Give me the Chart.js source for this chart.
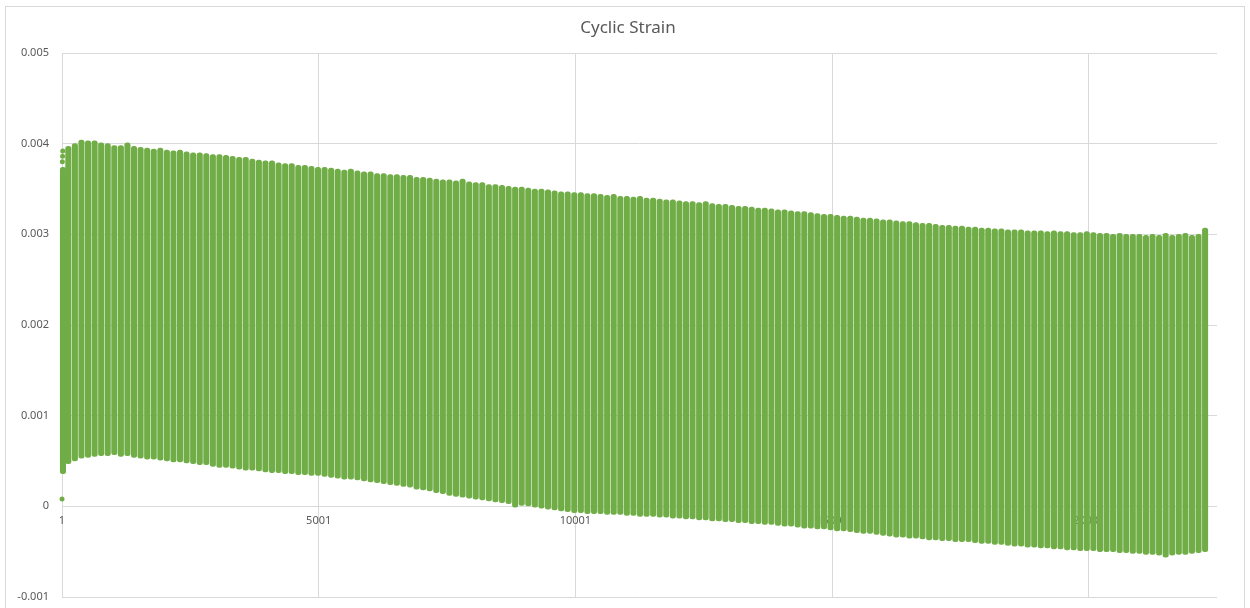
<!DOCTYPE html>
<html>
<head>
<meta charset="utf-8">
<title>Cyclic Strain</title>
<script src="https://cdn.jsdelivr.net/npm/chart.js@4.4.0/dist/chart.umd.min.js"></script>
<style>
  html, body { margin: 0; padding: 0; background: #ffffff; }
  #wrap { width: 1250px; height: 608px; }
</style>
</head>
<body>
<div id="wrap"><canvas id="chart" width="1250" height="608"></canvas></div>
<script>
  // strain log: one sample per row, ~128 samples per load cycle
  const samplesPerCycle = 128
  const firstCycleStart = 60

  // highest and lowest strain of every cycle
  const peakStrain = [
    0.00397, 0.00400, 0.00404, 0.00403, 0.00403, 0.00401, 0.00400, 0.00398, 0.00398, 0.00401,
    0.00397, 0.00396, 0.00395, 0.00394, 0.00395, 0.00393, 0.00392, 0.00393, 0.00391, 0.00390,
    0.00390, 0.00389, 0.00388, 0.00388, 0.00387, 0.00386, 0.00385, 0.00385, 0.00383, 0.00382,
    0.00381, 0.00381, 0.00379, 0.00378, 0.00378, 0.00376, 0.00376, 0.00375, 0.00374, 0.00374,
    0.00373, 0.00372, 0.00371, 0.00372, 0.00370, 0.00369, 0.00369, 0.00367, 0.00367, 0.00366,
    0.00366, 0.00365, 0.00365, 0.00363, 0.00363, 0.00362, 0.00361, 0.00360, 0.00360, 0.00359,
    0.00361, 0.00358, 0.00357, 0.00357, 0.00355, 0.00355, 0.00354, 0.00353, 0.00352, 0.00352,
    0.00351, 0.00350, 0.00350, 0.00349, 0.00348, 0.00347, 0.00347, 0.00346, 0.00346, 0.00345,
    0.00345, 0.00344, 0.00343, 0.00344, 0.00342, 0.00342, 0.00341, 0.00342, 0.00340, 0.00340,
    0.00339, 0.00338, 0.00338, 0.00337, 0.00336, 0.00336, 0.00335, 0.00336, 0.00334, 0.00333,
    0.00333, 0.00332, 0.00331, 0.00331, 0.00330, 0.00329, 0.00329, 0.00328, 0.00327, 0.00327,
    0.00326, 0.00325, 0.00325, 0.00324, 0.00323, 0.00322, 0.00322, 0.00321, 0.00320, 0.00320,
    0.00319, 0.00318, 0.00318, 0.00317, 0.00316, 0.00316, 0.00315, 0.00314, 0.00314, 0.00313,
    0.00312, 0.00312, 0.00311, 0.00310, 0.00310, 0.00309, 0.00309, 0.00308, 0.00308, 0.00307,
    0.00307, 0.00306, 0.00306, 0.00305, 0.00305, 0.00305, 0.00304, 0.00304, 0.00304, 0.00303,
    0.00304, 0.00303, 0.00303, 0.00302, 0.00302, 0.00303, 0.00302, 0.00301, 0.00301, 0.00300,
    0.00301, 0.00300, 0.00300, 0.00300, 0.00299, 0.00300, 0.00299, 0.00301, 0.00299, 0.00300,
    0.00301, 0.00299, 0.00300, 0.00307
  ]
  const troughStrain = [
    0.00047, 0.00050, 0.00053, 0.00054, 0.00055, 0.00056, 0.00056, 0.00057, 0.00055, 0.00056,
    0.00054, 0.00053, 0.00052, 0.00052, 0.00051, 0.00050, 0.00049, 0.00049, 0.00048, 0.00047,
    0.00046, 0.00046, 0.00044, 0.00043, 0.00043, 0.00042, 0.00041, 0.00040, 0.00040, 0.00039,
    0.00038, 0.00037, 0.00037, 0.00036, 0.00036, 0.00035, 0.00035, 0.00034, 0.00034, 0.00033,
    0.00032, 0.00031, 0.00030, 0.00030, 0.00029, 0.00028, 0.00027, 0.00026, 0.00025, 0.00024,
    0.00023, 0.00022, 0.00021, 0.00019, 0.00018, 0.00017, 0.00015, 0.00014, 0.00012, 0.00011,
    0.00010, 0.00009, 0.00008, 0.00007, 0.00006, 0.00005, 0.00004, 0.00003, -0.00001, 0.00001,
    0.00000, -0.00001, -0.00002, -0.00003, -0.00004, -0.00005, -0.00006, -0.00007, -0.00007, -0.00008,
    -0.00008, -0.00008, -0.00009, -0.00009, -0.00009, -0.00010, -0.00010, -0.00011, -0.00011, -0.00011,
    -0.00012, -0.00012, -0.00013, -0.00013, -0.00014, -0.00014, -0.00015, -0.00015, -0.00016, -0.00016,
    -0.00017, -0.00017, -0.00018, -0.00018, -0.00019, -0.00019, -0.00020, -0.00020, -0.00021, -0.00022,
    -0.00022, -0.00023, -0.00024, -0.00024, -0.00025, -0.00025, -0.00026, -0.00027, -0.00027, -0.00028,
    -0.00029, -0.00030, -0.00030, -0.00031, -0.00032, -0.00033, -0.00034, -0.00034, -0.00035, -0.00035,
    -0.00036, -0.00037, -0.00037, -0.00038, -0.00038, -0.00039, -0.00039, -0.00039, -0.00040, -0.00041,
    -0.00041, -0.00042, -0.00042, -0.00043, -0.00044, -0.00044, -0.00045, -0.00045, -0.00046, -0.00046,
    -0.00047, -0.00047, -0.00048, -0.00048, -0.00049, -0.00049, -0.00049, -0.00050, -0.00050, -0.00050,
    -0.00051, -0.00051, -0.00052, -0.00052, -0.00053, -0.00053, -0.00054, -0.00056, -0.00054, -0.00053,
    -0.00053, -0.00052, -0.00051, -0.00050
  ]

  // first samples, before the cycling settles
  const rampSample = [1, 8, 12, 16]
  const rampStrain = [0.00008, 0.00380, 0.00386, 0.00392]
  const rampBand = [0.00036, 0.00374]
  const rampBandSample = 20

  const xTicks = [1, 5001, 10001, 15001, 20001]
  const xMax = 22500
  const yMin = -0.001
  const yMax = 0.005
  const chartTitle = 'Cyclic Strain'

  const green = '#70ad47'
  const grey = '#595959'
  const gridColor = '#d9d9d9'

  const cycleBars = peakStrain.map((peak, i) => ({
    x: firstCycleStart + i * samplesPerCycle + samplesPerCycle / 2,
    y: [troughStrain[i], peak]
  }))
  cycleBars.unshift({x: rampBandSample, y: rampBand})

  const rampPoints = rampSample.map((s, i) => ({x: s, y: rampStrain[i]}))

  // white page, thin frame round the whole chart and the title above it
  const frame = {
    id: 'frame',
    beforeDraw(chart) {
      const ctx = chart.ctx
      ctx.save()
      ctx.fillStyle = '#ffffff'
      ctx.fillRect(0, 0, chart.width, chart.height)
      ctx.strokeStyle = gridColor
      ctx.lineWidth = 1
      ctx.strokeRect(5.5, 6.5, 1239, 620)
      ctx.fillStyle = grey
      ctx.font = '17px "Noto Sans"'
      ctx.textAlign = 'center'
      ctx.textBaseline = 'middle'
      ctx.fillText(chartTitle, 628, 28)
      ctx.restore()
    }
  }

  const chart = new Chart(document.getElementById('chart'), {
    type: 'bar',
    data: {
      datasets: [
        {
          type: 'bar',
          label: 'Strain',
          data: cycleBars,
          backgroundColor: green,
          borderWidth: 0,
          borderRadius: 2.5,
          borderSkipped: false,
          barThickness: 5.4,
          clip: false
        },
        {
          type: 'scatter',
          label: 'Strain start',
          data: rampPoints,
          backgroundColor: green,
          borderColor: green,
          pointRadius: 2.5,
          pointBorderWidth: 0,
          clip: false
        }
      ]
    },
    options: {
      responsive: false,
      animation: false,
      devicePixelRatio: 1,
      layout: {padding: {top: 53, right: 33, bottom: 11, left: 0}},
      plugins: {
        legend: {display: false},
        tooltip: {enabled: false},
        title: {display: false}
      },
      scales: {
        x: {
          type: 'linear',
          position: {y: 0},
          min: 1,
          max: xMax,
          offset: false,
          grid: {color: gridColor, drawTicks: false, offset: false},
          border: {display: false},
          afterBuildTicks: scale => {
            scale.ticks = xTicks.map(v => ({value: v}))
          },
          afterFit: scale => {
            scale.paddingLeft = 0
            scale.paddingRight = 0
          },
          ticks: {
            color: grey,
            font: {family: 'Noto Sans', size: 11},
            padding: 8,
            maxRotation: 0,
            autoSkip: false,
            callback: v => String(v)
          }
        },
        y: {
          min: yMin,
          max: yMax,
          grid: {color: gridColor, drawTicks: false},
          border: {display: false},
          afterFit: scale => {
            scale.width = 62
            scale.paddingTop = 0
            scale.paddingBottom = 0
          },
          ticks: {
            stepSize: 0.001,
            color: grey,
            font: {family: 'Noto Sans', size: 11},
            padding: 13,
            callback: v => String(+v.toFixed(3))
          }
        }
      }
    },
    plugins: [frame]
  })
</script>
</body>
</html>
